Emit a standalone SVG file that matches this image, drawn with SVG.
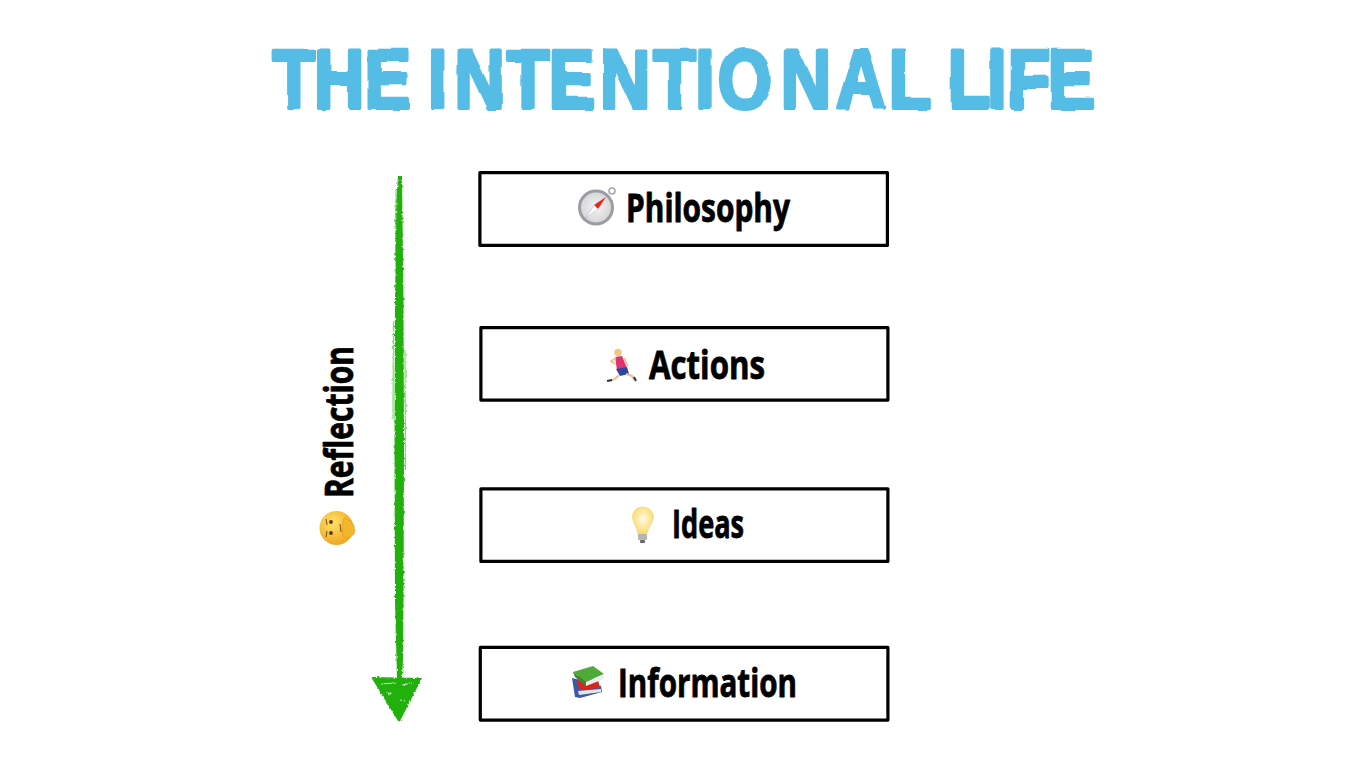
<svg xmlns="http://www.w3.org/2000/svg" width="1370" height="768" viewBox="0 0 1370 768">
<style>
.box{fill:#fff;stroke:#000;stroke-width:3.2;stroke-linejoin:round}
.lbl{font-family:"Open Sans","Liberation Sans",sans-serif;font-weight:700;font-size:39px;fill:#000;stroke:#000;stroke-width:.8;stroke-linejoin:round}
.title{font-family:"Liberation Sans",Arial,sans-serif;font-weight:700;font-size:83px;fill:#55bce6;stroke:#55bce6;stroke-width:4;stroke-linejoin:round}
.g{fill:#22b00a}
.strand{fill:none;stroke:#22b00a;stroke-width:1.200;opacity:.55}
.sliver{fill:none;stroke:#fff;stroke-width:.9;opacity:.8}
</style>
<defs>
<filter id="rough" x="-20%" y="-5%" width="140%" height="110%"><feTurbulence type="fractalNoise" baseFrequency="0.35" numOctaves="2" seed="4"/><feDisplacementMap in="SourceGraphic" scale="3" xChannelSelector="R" yChannelSelector="G"/></filter>
<filter id="wob" x="-2%" y="-10%" width="104%" height="120%"><feTurbulence type="fractalNoise" baseFrequency="0.035" numOctaves="1" seed="7"/><feDisplacementMap in="SourceGraphic" scale="4" xChannelSelector="R" yChannelSelector="G"/></filter>
<radialGradient id="face" cx=".4" cy=".35" r=".7"><stop offset="0" stop-color="#ffe168"/><stop offset="1" stop-color="#eda51d"/></radialGradient>
<radialGradient id="dial" cx=".5" cy=".5" r=".5"><stop offset="0" stop-color="#f4f4f4"/><stop offset="1" stop-color="#d8d8d8"/></radialGradient>
<radialGradient id="bulb" cx=".5" cy=".45" r=".55"><stop offset="0" stop-color="#fffbe6"/><stop offset="1" stop-color="#fbd96a"/></radialGradient>
</defs>
<rect width="1370" height="768" fill="#fff"/>
<g id="title"><text class="title" transform="scale(.84 1)" y="108" x="324.400 373.700 433.800 480 509.600 541 603.200 653.300 714.200 777.700 827.700 854.600 929.600 995.100 1058 1100 1128.200 1175.400 1199.600 1247.400" filter="url(#wob)">THE INTENTIONAL LIFE</text></g>
<g id="connectors">
<g id="reflection-arrow" filter="url(#rough)">
<path class="g" d="M396.500 200L398 176L402 176L403.500 300L404 450L403.500 600L403 660L402 678L397 678L396 640L395 600L394.500 450L395 300Z"/>
<path class="strand" d="M393.500 320L393 420M405 350L405.500 470M396 190L395.500 260M398 640L398 676"/>
<path class="g" d="M371 677L422 678L400 721L398 721Z"/>
<path class="sliver" d="M381 684L396 683M402 685L413 683M386 693L392 694M400 700L405 701"/>
</g>
</g>
<g id="node-philosophy">
<rect class="box" x="479.900" y="172.600" width="407.500" height="72.800"/>
<circle cx="596" cy="207.500" r="18" fill="#9a9da3"/><circle cx="612" cy="191" r="3" fill="#fff" stroke="#a5a8ae" stroke-width="1.600"/>
<circle cx="596" cy="207.500" r="15" fill="url(#dial)"/>
<path d="M606 197L594 205L598 209Z" fill="#e8261c"/><path d="M586 218L594 205L598 209Z" fill="#fff" stroke="#aaa" stroke-width=".5"/>
<text class="lbl" x="626" y="222" textLength="164" lengthAdjust="spacingAndGlyphs">Philosophy</text>
</g>
<g id="node-actions">
<rect class="box" x="480.900" y="327.600" width="407" height="72.500"/>
<circle cx="618" cy="352.500" r="3.800" fill="#f0c98a"/>
<path d="M615 357L622 356L627 368L617 370Z" fill="#e0336e"/>
<path d="M616 358L611 361L615 364M624 358L628 366" fill="none" stroke="#eec39a" stroke-width="1.800"/>
<path d="M616 369L627 367L629 374L620 376Z" fill="#2d44a0"/>
<path d="M619 375L615 379L609 381M626 374L632 376L634 380" fill="none" stroke="#eec39a" stroke-width="2.200"/>
<path d="M607 381L612 380M634 377L636 381" stroke="#334" stroke-width="2"/>
<text class="lbl" x="649" y="379" textLength="116" lengthAdjust="spacingAndGlyphs">Actions</text>
</g>
<g id="node-ideas">
<rect class="box" x="480.900" y="488.900" width="407" height="72.500"/>
<path d="M642.500 507C636 507 632.500 512 632.500 517C632.500 523 637.500 527 638 534L647 534C647.500 527 653.500 523 653.500 517C653.500 512 649 507 642.500 507Z" fill="url(#bulb)" stroke="#f3d98a" stroke-width=".8"/>
<rect x="638" y="534" width="9" height="6" rx="1" fill="#b5b5b5"/><rect x="640" y="540" width="5" height="3" rx="1" fill="#666"/>
<text class="lbl" x="672" y="538" textLength="72" lengthAdjust="spacingAndGlyphs">Ideas</text>
</g>
<g id="node-information">
<rect class="box" x="480.300" y="647.300" width="407.600" height="72.800"/>
<path d="M572 678L580 680L601 686L602 692L580 698L575 697Z" fill="#3a5aa8"/>
<path d="M578 691L601 689L601 692L579 695Z" fill="#e4e4e4"/>
<path d="M577 677L581 675L598 680L600 688L579 690Z" fill="#d9261c"/>
<path d="M573 672L593 666L604 674L586 682Z" fill="#4faa3c"/>
<path d="M586 682L604 674L604 679L586 686Z" fill="#eee"/>
<path d="M573 672L586 682L586 686L575 677Z" fill="#3c8a2e"/>
<text class="lbl" x="618" y="697" textLength="179" lengthAdjust="spacingAndGlyphs">Information</text>
</g>
<g id="label-reflection">
<text class="lbl" transform="translate(353 498) rotate(-90)" x="0" y="0" textLength="152" lengthAdjust="spacingAndGlyphs">Reflection</text>
<circle cx="336.500" cy="528" r="17" fill="url(#face)"/>
<path d="M344 518C352 520 356 526 354 534C350 538 345 539 343 536C342 530 342 524 344 518Z" fill="#f5b52c" stroke="#e09a1c" stroke-width=".7"/>
<circle cx="331" cy="522" r="1.900" fill="#5a3410"/><circle cx="331" cy="533" r="1.900" fill="#5a3410"/>
<path d="M326 519L327 525M327 531L326 537M340 524L341 532" fill="none" stroke="#7a4a14" stroke-width="1"/>
</g>
</svg>
